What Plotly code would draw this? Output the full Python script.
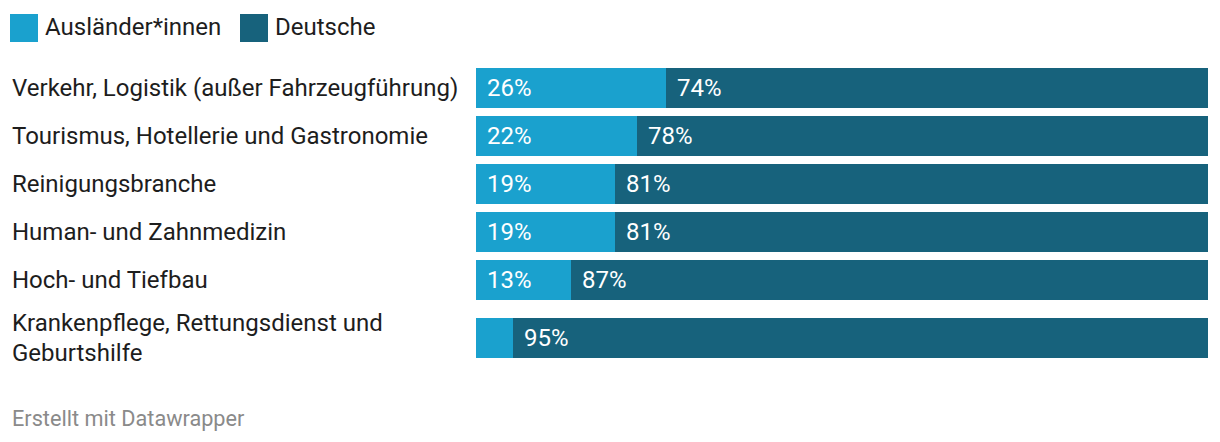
import plotly.graph_objects as go

# ---- data ----
categories = [
    "Verkehr, Logistik (außer Fahrzeugführung)",
    "Tourismus, Hotellerie und Gastronomie",
    "Reinigungsbranche",
    "Human- und Zahnmedizin",
    "Hoch- und Tiefbau",
    "Krankenpflege, Rettungsdienst und|Geburtshilfe",
]
auslaender = [26, 22, 19, 19, 13, 5]
deutsche = [74, 78, 81, 81, 87, 95]
series_names = ["Ausländer*innen", "Deutsche"]
colors = ["#1AA1CE", "#17627C"]
footer = "Erstellt mit Datawrapper"

# ---- layout geometry (pixels) ----
W, H = 1220, 442
PL, PR, PT, PB = 476, 12, 60, 72
ROW_PX = 48
EXTRA_PX = 10  # extra gap before a two-line row
FONT = "Roboto"
FS = 24

# row positions in row units, derived from label line counts
positions = []
pos = 0.0
for i, c in enumerate(categories):
    lines = c.split("|")
    if i > 0:
        pos += 1.0
        if len(lines) > 1:
            pos += EXTRA_PX / ROW_PX
    positions.append(pos)

plot_h = H - PT - PB
first_center_px = 88
y_top = positions[0] - (first_center_px - PT) / ROW_PX
y_bot = y_top + plot_h / ROW_PX

fig = go.Figure()
for name, vals, col in zip(series_names, [auslaender, deutsche], colors):
    fig.add_trace(go.Bar(
        y=positions, x=vals, name=name, orientation="h",
        marker=dict(color=col, line=dict(width=0)),
        width=40 / ROW_PX, hoverinfo="skip", showlegend=False,
    ))

annotations = []
# value labels inside segments
for p, a, d in zip(positions, auslaender, deutsche):
    for start, v in [(0, a), (a, d)]:
        if v >= 10:
            annotations.append(dict(
                x=start, y=p, xref="x", yref="y", text=f"{v}%",
                showarrow=False, xanchor="left", yanchor="middle", xshift=9,
                font=dict(family=FONT, size=FS, color="white"),
            ))

# category labels, left aligned
LINE_PX = 30
for c, p in zip(categories, positions):
    lines = c.split("|")
    n = len(lines)
    for j, ln in enumerate(lines):
        shift = ((n - 1) / 2 - j) * LINE_PX
        annotations.append(dict(
            x=0, y=p, xref="paper", yref="y", text=ln, showarrow=False,
            xanchor="left", yanchor="middle", xshift=10 - PL, yshift=shift,
            font=dict(family=FONT, size=FS, color="#1d1d1d"),
        ))

pw = W - PL - PR
def px_x(px):
    return (px - PL) / pw
def px_y(py):
    return (H - PB - py) / plot_h

# legend (manual)
shapes = []
legend_x = [10, 240]
for lx, name, col in zip(legend_x, series_names, colors):
    shapes.append(dict(type="rect", xref="paper", yref="paper",
                       x0=px_x(lx), x1=px_x(lx + 28), y0=px_y(42), y1=px_y(14),
                       fillcolor=col, line=dict(width=0)))
    annotations.append(dict(x=px_x(lx + 33), y=px_y(27), xref="paper", yref="paper",
                            text=name, showarrow=False, xanchor="left", yanchor="middle",
                            font=dict(family=FONT, size=FS, color="#1d1d1d")))

# footer
annotations.append(dict(x=px_x(10), y=px_y(418), xref="paper", yref="paper",
                        text=footer, showarrow=False, xanchor="left", yanchor="middle",
                        font=dict(family=FONT, size=21.7, color="#8a8a8a")))

fig.update_layout(
    width=W, height=H, barmode="stack", bargap=0,
    margin=dict(l=PL, r=PR, t=PT, b=PB, pad=0),
    paper_bgcolor="white", plot_bgcolor="white",
    xaxis=dict(range=[0, 100], visible=False, fixedrange=True),
    yaxis=dict(range=[y_bot, y_top], visible=False, fixedrange=True),
    annotations=annotations, shapes=shapes,
    font=dict(family=FONT),
)

fig.write_html("out.html", config={"displayModeBar": False})
